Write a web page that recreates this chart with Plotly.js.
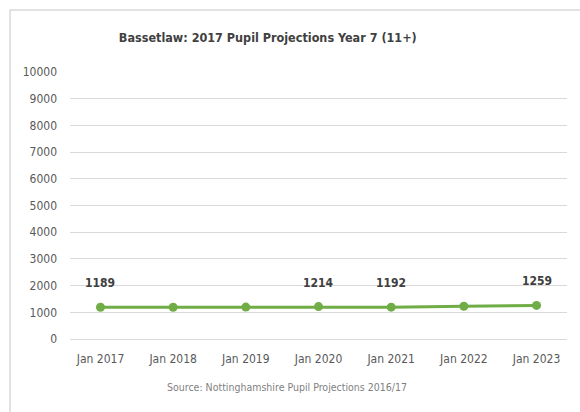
<!DOCTYPE html>
<html>
<head>
<meta charset="utf-8">
<script src="https://cdn.plot.ly/plotly-3.0.1.min.js"></script>
<style>html,body{margin:0;padding:0;background:#fff;}#chart{width:580px;height:412px;}</style>
</head>
<body>
<div id="chart"></div>
<script>
const categories = ["Jan 2017","Jan 2018","Jan 2019","Jan 2020","Jan 2021","Jan 2022","Jan 2023"];
const pupils = [1189, 1190, 1195, 1214, 1192, 1225, 1259];
const labelShown = [true, false, false, true, true, false, true];
const yTicks = [0,1000,2000,3000,4000,5000,6000,7000,8000,9000,10000];
const titleText = "Bassetlaw: 2017 Pupil Projections Year 7 (11+)";
const sourceText = "Source: Nottinghamshire Pupil Projections 2016/17";

const FONT = "DejaVu Sans Condensed, Arial Narrow, sans-serif";

const trace = {
  x: categories, y: pupils, type: "scatter", mode: "lines+markers",
  line: {color: "#70ad47", width: 3},
  marker: {color: "#70ad47", size: 9},
  hoverinfo: "x+y", showlegend: false
};

const annotations = [];
categories.forEach((c, i) => {
  if (labelShown[i]) {
    annotations.push({x: c, y: pupils[i], xref: "x", yref: "y", text: String(pupils[i]),
      showarrow: false, yshift: 24, font: {family: FONT, size: 12, color: "#404040", weight: "bold"}});
  }
});
annotations.push({xref: "paper", yref: "paper", x: 0.4366, y: -0.18, xanchor: "center", yanchor: "middle",
  text: sourceText, showarrow: false, font: {family: FONT, size: 10.5, color: "#7f7f7f"}});

const layout = {
  width: 580, height: 412,
  margin: {l: 70, r: 13, t: 72, b: 73},
  paper_bgcolor: "#fff", plot_bgcolor: "#fff",
  font: {family: FONT, color: "#595959", size: 12},
  title: {text: titleText, xref: "paper", x: 0.398, xanchor: "center", yref: "container", y: 0.908, yanchor: "middle",
    font: {family: FONT, size: 12.5, color: "#404040", weight: "bold"}},
  xaxis: {type: "category", showgrid: false, zeroline: false, showline: false, ticks: "",
    ticklabelstandoff: 11, tickfont: {family: FONT, size: 12, color: "#595959"}, fixedrange: true},
  yaxis: {range: [0, 10000], tickvals: yTicks, ticktext: yTicks.map(String), showgrid: true, gridcolor: "#d9d9d9", gridwidth: 1,
    zeroline: true, zerolinecolor: "#d9d9d9", zerolinewidth: 1, showline: false, ticks: "",
    ticklabelstandoff: 12, tickfont: {family: FONT, size: 12, color: "#595959"}, fixedrange: true},
  annotations: annotations,
  shapes: [{type: "rect", xref: "paper", yref: "paper", x0: -0.1207, x1: 2, y0: -0.6, y1: 1.232,
    line: {color: "#d9d9d9", width: 1.5}, fillcolor: "rgba(0,0,0,0)", layer: "below"}]
};

Plotly.newPlot("chart", [trace], layout, {displayModeBar: false, staticPlot: true});
</script>
</body>
</html>
